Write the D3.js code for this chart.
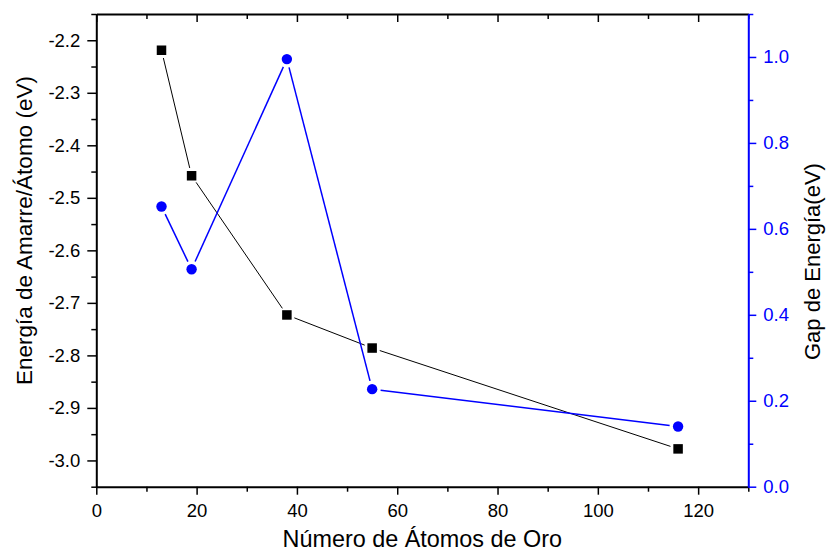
<!DOCTYPE html>
<html>
<head>
<meta charset="utf-8">
<script src="https://cdn.jsdelivr.net/npm/d3@7"></script>
<style>
  html, body { margin: 0; padding: 0; background: #fff; }
  svg { display: block; font-family: "Liberation Sans", Arial, sans-serif; }
</style>
</head>
<body>
<svg id="chart" width="826" height="557"></svg>
<script>
// Cluster sizes (number of gold atoms)
const atoms = [13, 19, 38, 55, 116];
// Binding energy per atom (eV), left axis
const bindingEnergy = [-2.219, -2.458, -2.723, -2.786, -2.978];
// HOMO-LUMO energy gap (eV), right axis
const energyGap = [0.652, 0.506, 0.995, 0.227, 0.140];

// Tick values
const xMajorTicks = [0, 20, 40, 60, 80, 100, 120];
const xMinorTicks = [10, 30, 50, 70, 90, 110, 130];
const yLeftMajorTicks = [-3.0, -2.9, -2.8, -2.7, -2.6, -2.5, -2.4, -2.3, -2.2];
const yLeftMinorTicks = [-3.05, -2.95, -2.85, -2.75, -2.65, -2.55, -2.45, -2.35, -2.25, -2.15];
const yRightMajorTicks = [0.0, 0.2, 0.4, 0.6, 0.8, 1.0];
const yRightMinorTicks = [0.1, 0.3, 0.5, 0.7, 0.9, 1.1];

const BLUE = "#0000ff";
const FONT = "'Liberation Sans', Arial, sans-serif";
const TICK_FONT = 18.5;
const plot = { left: 96.3, right: 748.3, top: 14, bottom: 486.7 };

const svg = d3.select("#chart");

const x = d3.scaleLinear().domain([0, 130]).range([plot.left, plot.right]);
const yL = d3.scaleLinear().domain([-3.05, -2.15]).range([plot.bottom, plot.top]);
const yR = d3.scaleLinear().domain([0, 1.1]).range([plot.bottom, plot.top]);

function styleAxis(g, color, width) {
  g.select(".domain").attr("stroke", color).attr("stroke-width", width);
  g.selectAll(".tick line").attr("stroke", color).attr("stroke-width", 1.5);
  g.selectAll(".tick text").attr("fill", color).attr("font-size", TICK_FONT).attr("font-family", FONT);
}

function minorTicks(g) {
  g.select(".domain").remove();
  g.selectAll(".tick line").attr("stroke-width", 1.5);
}

// Bottom axis
const gB = svg.append("g").attr("transform", `translate(0,${plot.bottom})`);
gB.call(d3.axisBottom(x).tickValues(xMajorTicks).tickSize(8).tickPadding(9).tickSizeOuter(0).tickFormat(d3.format("d")));
styleAxis(gB, "#000", 2);
svg.append("g").attr("transform", `translate(0,${plot.bottom})`)
  .call(d3.axisBottom(x).tickValues(xMinorTicks).tickSize(5).tickSizeOuter(0).tickFormat(""))
  .call(minorTicks)
  .selectAll(".tick line").attr("stroke", "#000");

// Top axis (ticks pointing inward, no labels)
const gT = svg.append("g").attr("transform", `translate(0,${plot.top})`);
gT.call(d3.axisBottom(x).tickValues(xMajorTicks).tickSize(8).tickSizeOuter(0).tickFormat(""));
styleAxis(gT, "#000", 2);
svg.append("g").attr("transform", `translate(0,${plot.top})`)
  .call(d3.axisBottom(x).tickValues(xMinorTicks).tickSize(5).tickSizeOuter(0).tickFormat(""))
  .call(minorTicks)
  .selectAll(".tick line").attr("stroke", "#000");

// Left axis
const fmt1 = v => d3.format(".1f")(v).replace("−", "-");
const gL = svg.append("g").attr("transform", `translate(${plot.left},0)`);
gL.call(d3.axisLeft(yL).tickValues(yLeftMajorTicks).tickSize(9).tickPadding(7).tickSizeOuter(0).tickFormat(fmt1));
styleAxis(gL, "#000", 2);
svg.append("g").attr("transform", `translate(${plot.left},0)`)
  .call(d3.axisLeft(yL).tickValues(yLeftMinorTicks).tickSize(5).tickSizeOuter(0).tickFormat(""))
  .call(minorTicks)
  .selectAll(".tick line").attr("stroke", "#000");

// Right axis (blue)
const gR = svg.append("g").attr("transform", `translate(${plot.right},0)`);
gR.call(d3.axisRight(yR).tickValues(yRightMajorTicks).tickSize(8).tickPadding(7).tickSizeOuter(0).tickFormat(fmt1));
styleAxis(gR, BLUE, 2);
svg.append("g").attr("transform", `translate(${plot.right},0)`)
  .call(d3.axisRight(yR).tickValues(yRightMinorTicks).tickSize(5).tickSizeOuter(0).tickFormat(""))
  .call(minorTicks)
  .selectAll(".tick line").attr("stroke", BLUE);

// Connecting segments with a small gap before each marker
function gappedSegments(xs, ys, yScale, gap) {
  const pts = xs.map((v, i) => [x(v), yScale(ys[i])]);
  const segs = [];
  for (let i = 0; i < pts.length - 1; i++) {
    const [x1, y1] = pts[i], [x2, y2] = pts[i + 1];
    const len = Math.hypot(x2 - x1, y2 - y1);
    const ux = (x2 - x1) / len, uy = (y2 - y1) / len;
    segs.push({ x1: x1 + ux * gap, y1: y1 + uy * gap, x2: x2 - ux * gap, y2: y2 - uy * gap });
  }
  return segs;
}

const gData = svg.append("g");

// Binding energy series (black squares)
gData.selectAll("line.be").data(gappedSegments(atoms, bindingEnergy, yL, 8)).join("line")
  .attr("class", "be")
  .attr("x1", d => d.x1).attr("y1", d => d.y1).attr("x2", d => d.x2).attr("y2", d => d.y2)
  .attr("stroke", "#000").attr("stroke-width", 1);

// Energy gap series (blue circles)
gData.selectAll("line.gap").data(gappedSegments(atoms, energyGap, yR, 8.5)).join("line")
  .attr("class", "gap")
  .attr("x1", d => d.x1).attr("y1", d => d.y1).attr("x2", d => d.x2).attr("y2", d => d.y2)
  .attr("stroke", BLUE).attr("stroke-width", 1.5);

const sq = 9.5;
gData.selectAll("rect.be").data(atoms).join("rect")
  .attr("class", "be")
  .attr("x", d => x(d) - sq / 2).attr("y", (d, i) => yL(bindingEnergy[i]) - sq / 2)
  .attr("width", sq).attr("height", sq).attr("fill", "#000");

gData.selectAll("circle.gap").data(atoms).join("circle")
  .attr("class", "gap")
  .attr("cx", d => x(d)).attr("cy", (d, i) => yR(energyGap[i]))
  .attr("r", 5.2).attr("fill", BLUE);

// Axis titles
svg.append("text")
  .attr("x", (plot.left + plot.right) / 2).attr("y", 547)
  .attr("text-anchor", "middle").attr("font-size", 23.4).attr("fill", "#000")
  .text("Número de Átomos de Oro");

svg.append("text")
  .attr("transform", "translate(31.5,385) rotate(-90)")
  .attr("text-anchor", "start").attr("font-size", 22.5).attr("fill", "#000")
  .text("Energía de Amarre/Átomo (eV)");

svg.append("text")
  .attr("transform", "translate(820,360) rotate(-90)")
  .attr("text-anchor", "start").attr("font-size", 22).attr("fill", "#000")
  .text("Gap de Energía(eV)");
</script>
</body>
</html>
